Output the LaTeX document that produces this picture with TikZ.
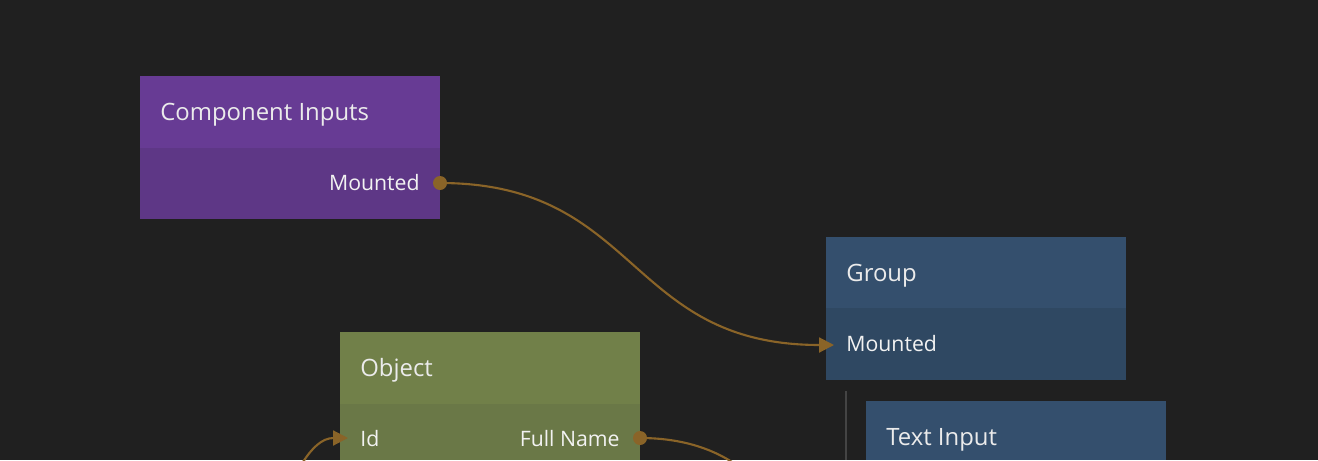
\documentclass[tikz,border=0pt]{standalone}
\usepackage{fontspec}
\setmainfont{Open Sans}
\usetikzlibrary{arrows.meta}
\definecolor{canvas}{HTML}{202020}
\definecolor{wirec}{HTML}{8A6428}
\definecolor{purplehead}{HTML}{673B94}
\definecolor{purplebody}{HTML}{5E3786}
\definecolor{bluehead}{HTML}{344F6D}
\definecolor{bluebody}{HTML}{2F4862}
\definecolor{greenhead}{HTML}{718049}
\definecolor{greenbody}{HTML}{6A7847}
\definecolor{guide}{HTML}{444444}
\tikzset{
  title/.style={anchor=base west, text=white!92!black, font=\fontsize{13.6}{16}\selectfont, inner sep=0pt},
  port/.style={text=white!95!black, font=\fontsize{12.1}{14}\selectfont, inner sep=0pt},
  wire/.style={draw=wirec, line width=1.2pt},
  into/.style={wire, -{Triangle[length=8.5pt,width=8.5pt]}},
}
\begin{document}
\begin{tikzpicture}[x=0.02cm, y=-0.02cm]
    \fill[canvas] (0, 0) rectangle (1318, 460);
    \useasboundingbox (0, 0) rectangle (1318, 460);

    % Component Inputs
    \fill[purplehead] (140,  76) rectangle (440, 148);
    \fill[purplebody] (140, 148) rectangle (440, 219);
    \node[title] (ciname) at (160, 120) {Component Inputs};
    \node[port, anchor=base east] (cimounted) at (420, 190) {Mounted};
    \coordinate (ciout) at (440, 183);

    % Group
    \fill[bluehead] (826, 237) rectangle (1126, 308);
    \fill[bluebody] (826, 308) rectangle (1126, 380);
    \node[title] (grname) at (846, 281) {Group};
    \node[port, anchor=base west] (grmounted) at (846, 351) {Mounted};
    \coordinate (grin) at (834, 345);
    \draw[guide, line width=1.2pt] (846, 391) -- (846, 460);

    % Text Input
    \fill[bluehead] (866, 401) rectangle (1166, 460);
    \node[title] (tiname) at (886, 445) {Text Input};

    % Object
    \fill[greenhead] (340, 332) rectangle (640, 404);
    \fill[greenbody] (340, 404) rectangle (640, 460);
    \node[title] (obname) at (360, 376) {Object};
    \node[port, anchor=base west] (obid) at (360, 446) {Id};
    \node[port, anchor=base east] (obfull) at (620, 446) {Full Name};
    \coordinate (obin)  at (348, 438);
    \coordinate (obout) at (640, 438);
    \coordinate (idsrc) at (303, 462);
    \coordinate (fullsink) at (732, 462);

    % wires
    \draw[into] (ciout) .. controls (640, 183) and (626, 345) .. (grin);
    \draw[into] (idsrc) .. controls (312, 448) and (322, 438) .. (obin);
    \draw[wire] (obout) .. controls (680, 438) and (710, 448) .. (fullsink);
    \fill[wirec] (ciout) circle (7);
    \fill[wirec] (obout) circle (7);
\end{tikzpicture}
\end{document}
